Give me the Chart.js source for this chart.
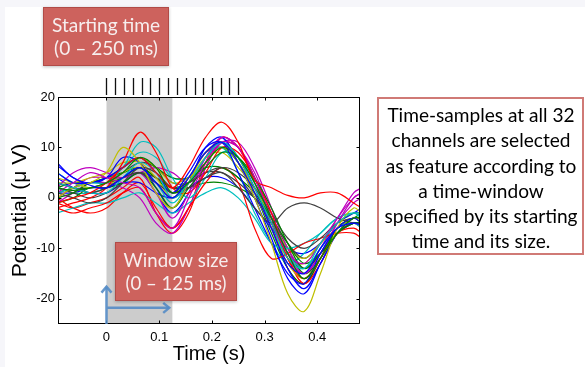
<!DOCTYPE html>
<html>
<head>
<meta charset="utf-8">
<script src="https://cdn.jsdelivr.net/npm/chart.js@4.4.1/dist/chart.umd.min.js"></script>
<style>
  html, body { margin: 0; padding: 0; background: #f6f6fa; }
  canvas { display: block; }
</style>
</head>
<body>
<canvas id="erpChart" width="585" height="367"></canvas>
<script>
// Sample times (s)
const times = [-0.094, -0.063, -0.031, 0, 0.031, 0.063, 0.094, 0.125, 0.156, 0.188,
               0.219, 0.25, 0.281, 0.313, 0.344, 0.375, 0.406, 0.438, 0.469, 0.484];

const xTicks = [0, 0.1, 0.2, 0.3, 0.4];
const yTicks = [-20, -10, 0, 10, 20];

// candidate starting times marked above the plot (s)
const startTimes = [0, 0.017, 0.033, 0.05, 0.067, 0.083, 0.1, 0.117,
                    0.133, 0.15, 0.167, 0.183, 0.2, 0.217, 0.233, 0.25];
const windowStart = 0;
const windowEnd = 0.125;

// old matlab colour order
const channelColors = ["#0000ff", "#008000", "#ff0000", "#00bfbf", "#bf00bf", "#bfbf00", "#404040"];

// Potential (uV) per channel, one row per channel
const channelValues = [
  [6.5, 4, 2.5, 2, 4, 6, 3, 0, 4, 9, 11, 7, 1, -6, -13, -15, -10, -6, -5, -5.5],
  [2, 1.5, 2, 3, 5, 8, 6, 1, 3, 7, 10, 8, 3, -4, -11, -16, -12, -7, -4, -4],
  [-1, 0, 1, 3, 6, 8, 5, 2, 6, 12, 15, 11, 3.5, 2, 0.5, 0, 1, 1, -1, -2],
  [3, 2, 1, 1, 4, 7, 5, 0, 3, 8, 11, 8, 2, -5, -12, -14, -9, -5, -3, -4],
  [1, 3, 5, 4, 3, 2, -3, -6, 0, 7, 11, 10, 4, -4, -11, -13, -9, -4, 1, 2],
  [0, 2, 3, 5, 10, 7, 1, -2, 3, 9, 11, 7, 0, -9, -19, -22.5, -15, -6, -2, -3],
  [3, 2, 1, 2, 4, 5, 3, 1, 2, 4, 5, 2, -2, -5, -2, -1, -2, -4, -5, -5],
  [5, 3, 3, 4, 6, 8, 5, 1, 5, 10, 11, 5, -2, -9, -15, -17, -11, -6, -4, -5],
  [-1, 0, 2, 2, 3, 5, 2, -2, 2, 6, 9, 8, 4, -2, -9, -14, -11, -7, -5, -5],
  [-2, -1, 0, 2, 7, 13, 9, 2, 1, 5, 10, 9, 4, -3, -12, -16, -12, -7, -6, -7],
  [1, 2, 3, 3, 6, 11, 10, 4, 0, 4, 9, 8, 3, -4, -11, -14, -10, -6, -5, -6],
  [2, 5, 6, 5, 4, 5, 1, -4, 1, 8, 12, 10, 5, -3, -11, -15, -11, -5, 0, 1],
  [4, 3, 2, 3, 6, 8, 6, 3, 4, 7, 10, 7, 1, -6, -13, -16, -12, -7, -4, -5],
  [1, 0, -1, 0, 3, 6, 5, 2, 2, 4, 6, 5, 2, -3, -8, -10, -8, -5, -4, -4],
  [7, 4, 3, 4, 8, 7, 2, -2, 3, 10, 12, 7, 0, -8, -16, -19, -13, -7, -5, -5],
  [0, 1, 3, 4, 6, 8, 6, 4, 4, 6, 6, 4, 1, -4, -9, -13, -11, -7, -5, -5],
  [-2, -3, -2, -1, 1, 2, -3, -6, -2, 3, 6, 3, -6, -12, -11, -9, -8, -7, -7, -8],
  [-3, -2, -1, -1, 0, 1, -1, -3, -1, 1, 2, 0, -4, -9, -10, -9, -7, -4, -3, -3],
  [-1, 1, 3, 3, 2, 0, -5, -7, -2, 6, 11, 11, 6, -2, -10, -14, -10, -4, 0, 1],
  [3, 3, 4, 5, 7, 7, 4, 0, 3, 8, 9, 6, 2, -4, -10, -12, -9, -6, -4, -4],
  [2, 1, 0, 1, 3, 5, 4, 2, 3, 5, 5, 3, 0, -4, -9, -12, -9, -5, -3, -3],
  [4, 2, 1, 1, 3, 5, 1, -3, 1, 8, 11, 8, 2, -6, -14, -18, -13, -7, -4, -4],
  [1, 2, 3, 3, 4, 6, 4, 2, 2, 3, 3, 2, 0, -4, -10, -15, -12, -6, -4, -5],
  [-1, -2, -1, 0, 2, 4, -3, -7, -3, 6, 11, 10, 4, -4, -12, -17, -13, -7, -5, -6],
  [2, 1, 1, 2, 4, 6, 3, -1, 3, 8, 10, 5, -3, -9, -13, -11, -7, -4, -3, -4],
  [0, 2, 4, 4, 4, 5, 6, 5, 3, 7, 12, 10, 4, -4, -12, -15, -11, -5, -1, 0],
  [2, 1, 1, 2, 5, 6, 3, 0, 4, 9, 11, 8, 1, -6, -12, -13, -9, -5, -4, -4],
  [3, 2, 2, 3, 5, 7, 6, 3, 3, 5, 6, 4, 0, -5, -11, -14, -11, -6, -5, -5],
  [1, 1, 2, 2, 3, 3, 1, 0, 2, 4, 4, 2, -2, -6, -10, -11, -9, -5, -3, -2],
  [2, 3, 3, 4, 5, 6, 4, 1, 4, 9, 10, 7, 1, -7, -14, -17, -12, -6, -4, -3],
  [0, -2, -3, -2, 1, 3, -2, -6, -2, 7, 12, 10, 3, -5, -14, -17, -12, -6, -4, -4],
  [5, 3, 2, 3, 6, 9, 8, 4, 4, 8, 10, 7, 2, -5, -12, -15, -10, -6, -4, -5]
];

const noteLines = ["Time-samples at all 32", "channels are selected", "as feature according to",
                   "a time-window", "specified by its starting", "time and its size."];

// shrink/grow a font so the text hits a given width
function fitFont(ctx, text, family, width) {
  ctx.font = "20px " + family;
  const size = 20 * width / ctx.measureText(text).width;
  return size.toFixed(1) + "px " + family;
}

function redBox(ctx, x, y, w, h, lines, targetW) {
  ctx.save();
  ctx.shadowColor = "rgba(0,0,0,0.25)";
  ctx.shadowBlur = 3;
  ctx.shadowOffsetY = 1;
  ctx.fillStyle = "#cd625d";
  ctx.fillRect(x, y, w, h);
  ctx.restore();
  ctx.save();
  ctx.strokeStyle = "#b14b47";
  ctx.lineWidth = 1;
  ctx.strokeRect(x + 0.5, y + 0.5, w - 1, h - 1);
  ctx.fillStyle = "#f7eeee";
  ctx.font = fitFont(ctx, lines[0], "Lato", targetW);
  ctx.textAlign = "center";
  ctx.textBaseline = "middle";
  ctx.fillText(lines[0], x + w / 2, y + h / 2 - 11);
  ctx.fillText(lines[1], x + w / 2, y + h / 2 + 12);
  ctx.restore();
}

function arrowHead(ctx, x, y, dir) {
  ctx.beginPath();
  if (dir === "up") {
    ctx.moveTo(x - 5, y + 6); ctx.lineTo(x, y); ctx.lineTo(x + 5, y + 6);
  } else {
    ctx.moveTo(x - 6, y - 5); ctx.lineTo(x, y); ctx.lineTo(x - 6, y + 5);
  }
  ctx.stroke();
}

const figureExtras = {
  id: "figureExtras",
  beforeDraw(chart) {
    const ctx = chart.ctx;
    ctx.save();
    ctx.fillStyle = "#f6f6fa";
    ctx.fillRect(0, 0, chart.width, chart.height);
    ctx.fillStyle = "#ffffff";
    ctx.fillRect(5, 7, chart.width - 5, chart.height - 7);
    ctx.restore();
  },
  beforeDatasetsDraw(chart) {
    const { ctx, chartArea: a, scales: { x } } = chart;
    const x0 = x.getPixelForValue(windowStart);
    const x1 = x.getPixelForValue(windowEnd);
    ctx.save();
    ctx.fillStyle = "#cccccc";
    ctx.fillRect(x0, a.top, x1 - x0, a.bottom - a.top);
    ctx.restore();
  },
  afterDatasetsDraw(chart) {
    const { ctx, chartArea: a, scales: { x, y } } = chart;
    ctx.save();
    // axes box with inward ticks
    ctx.strokeStyle = "#000";
    ctx.lineWidth = 1;
    const L = Math.round(a.left) + 0.5, R = Math.round(a.right) - 0.5;
    const T = Math.round(a.top) + 0.5, B = Math.round(a.bottom) - 0.5;
    ctx.strokeRect(L, T, R - L, B - T);
    ctx.beginPath();
    xTicks.forEach(v => {
      const px = Math.round(x.getPixelForValue(v)) + 0.5;
      ctx.moveTo(px, B); ctx.lineTo(px, B - 3);
      ctx.moveTo(px, T); ctx.lineTo(px, T + 3);
    });
    yTicks.forEach(v => {
      const py = Math.round(y.getPixelForValue(v)) + 0.5;
      ctx.moveTo(L, py); ctx.lineTo(L + 3, py);
      ctx.moveTo(R, py); ctx.lineTo(R - 3, py);
    });
    ctx.stroke();

    // starting time marks above the axes
    ctx.strokeStyle = "#111";
    ctx.lineWidth = 1.3;
    ctx.beginPath();
    startTimes.forEach(t => {
      const px = Math.round(x.getPixelForValue(t)) + 0.5;
      ctx.moveTo(px, a.top - 19); ctx.lineTo(px, a.top - 2);
    });
    ctx.stroke();

    // window size arrows
    const ax = x.getPixelForValue(windowStart);
    ctx.strokeStyle = "rgba(84,140,198,0.9)";
    ctx.lineWidth = 2.5;
    ctx.beginPath();
    ctx.moveTo(ax, a.bottom); ctx.lineTo(ax, y.getPixelForValue(-17.6));
    const hy = y.getPixelForValue(-21.8);
    ctx.moveTo(ax, hy); ctx.lineTo(x.getPixelForValue(0.119), hy);
    ctx.stroke();
    arrowHead(ctx, ax, y.getPixelForValue(-17.6), "up");
    arrowHead(ctx, x.getPixelForValue(0.119), hy, "right");
    ctx.restore();

    redBox(ctx, 43, 7, 126, 59, ["Starting time", "(0 \u2013 250 ms)"], 108);
    redBox(ctx, 115, 242, 122, 59, ["Window size", "(0 \u2013 125 ms)"], 105);

    // explanation box on the right
    ctx.save();
    ctx.fillStyle = "#fff";
    ctx.fillRect(377, 97, 207, 158);
    ctx.strokeStyle = "#d07a76";
    ctx.lineWidth = 2;
    ctx.strokeRect(378, 98, 205, 156);
    ctx.fillStyle = "#000";
    ctx.font = fitFont(ctx, noteLines[0], "Lato", 187);
    ctx.textAlign = "center";
    ctx.textBaseline = "middle";
    noteLines.forEach((s, i) => ctx.fillText(s, 481, 116 + i * 25.2));
    ctx.restore();
  }
};

const ctx = document.getElementById("erpChart").getContext("2d");
new Chart(ctx, {
  type: "line",
  data: {
    datasets: channelValues.map((vals, i) => ({
      label: "ch" + (i + 1),
      data: times.map((t, j) => ({ x: t, y: vals[j] })),
      borderColor: channelColors[i % channelColors.length],
      borderWidth: 1.2,
      pointRadius: 0,
      tension: 0.35,
      fill: false
    }))
  },
  options: {
    responsive: false,
    animation: false,
    devicePixelRatio: 1,
    layout: { padding: { top: 97, right: 225, left: 0, bottom: 0 } },
    plugins: { legend: { display: false }, tooltip: { enabled: false } },
    scales: {
      x: {
        type: "linear",
        min: -0.092,
        max: 0.481,
        afterBuildTicks: s => { s.ticks = xTicks.map(v => ({ value: v })); },
        afterFit: s => { s.height = 43; },
        grid: { display: false, drawTicks: false },
        border: { display: false },
        ticks: {
          color: "#000", padding: 6, maxRotation: 0, autoSkip: false,
          font: { family: "Liberation Sans", size: 13 },
          callback: v => String(v)
        },
        title: {
          display: true, text: "Time (s)", color: "#000",
          font: { family: "Liberation Sans", size: 20 },
          padding: { top: 0, bottom: 1 }
        }
      },
      y: {
        min: -25,
        max: 20,
        afterBuildTicks: s => { s.ticks = yTicks.map(v => ({ value: v })); },
        afterFit: s => { s.width = 58; },
        grid: { display: false, drawTicks: false },
        border: { display: false },
        ticks: {
          color: "#000", padding: 3, autoSkip: false,
          font: { family: "Liberation Sans", size: 13 },
          callback: v => String(v)
        },
        title: {
          display: true, text: "Potential (\u03bc V)", color: "#000",
          font: { family: "Liberation Sans", size: 21 },
          padding: { top: 8, bottom: 0 }
        }
      }
    }
  },
  plugins: [figureExtras]
});
</script>
</body>
</html>
